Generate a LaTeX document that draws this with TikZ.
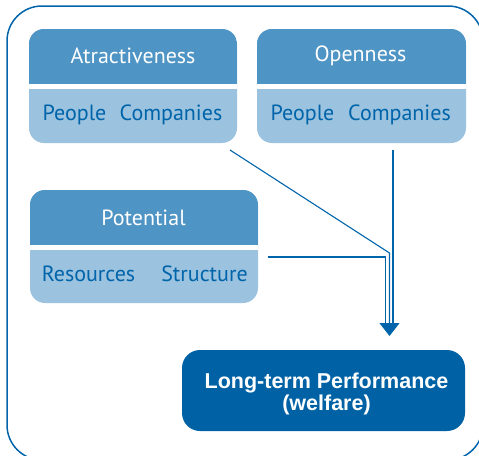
\documentclass[tikz,border=0pt]{standalone}
\usepackage{fontspec}
\setmainfont{PT Sans}
\newfontfamily\perffont{Liberation Sans}
\usetikzlibrary{positioning,arrows.meta}
\definecolor{frameblue}{RGB}{0,100,170}
\definecolor{headblue}{RGB}{78,148,196}
\definecolor{bodyblue}{RGB}{155,194,222}
\definecolor{perfblue}{RGB}{0,98,165}
\begin{document}
\begin{tikzpicture}[x=1pt, y=-1pt,
    box/.style={rounded corners=15pt, fill=bodyblue, inner sep=0pt, minimum height=114pt,
      path picture={
        \fill[headblue, sharp corners] (path picture bounding box.north west) rectangle ([yshift=-55pt]path picture bounding box.north east);
        \fill[white, sharp corners] ([yshift=-55pt]path picture bounding box.north west) rectangle ([yshift=-60pt]path picture bounding box.north east);}},
    title/.style={text=white, font=\fontsize{22}{24}\selectfont, inner sep=0pt},
    item/.style={text=frameblue, font=\fontsize{22}{24}\selectfont, inner sep=0pt},
    link/.style={draw=frameblue, line width=1.1pt},
    perf/.style={rounded corners=18pt, fill=perfblue, minimum width=283pt, minimum height=81pt},
    perftext/.style={text=white, align=center, inner sep=0pt,
      font=\perffont\bfseries\fontsize{21.5}{22}\selectfont}]
  \useasboundingbox (0,0) rectangle (479,455);
  % frame
  \draw[frameblue, line width=1.5pt, rounded corners=35pt] (7,6) rectangle (483,460);

  % the three groups
  \node[box, minimum width=208pt] (att) at (133,86) {};
  \node[box, minimum width=209pt] (opn) at (361.5,86) {};
  \node[box, minimum width=228pt, minimum height=113pt] (pot) at (144,246.5) {};

  \node[title] (att-t) at (133,56) {Atractiveness};
  \node[item] (att-p) at (74.5,115) {People};
  \node[item] (att-c) at (171,115) {Companies};

  \node[title] (opn-t) at (360.5,56) {Openness};
  \node[item] (opn-p) at (302.5,115) {People};
  \node[item] (opn-c) at (399.5,115) {Companies};

  \node[title] (pot-t) at (143.5,218) {Potential};
  \node[item] (pot-r) at (88.5,274) {Resources};
  \node[item] (pot-s) at (204.5,274) {Structure};

  \node[perf] (perf) at (323.5,390.5) {};
  \node[perftext] (perf-t) at (326.5,394) {Long-term Performance\\(welfare)};

  % connectors
  \coordinate (att-out) at (230,150);
  \coordinate (opn-out) at (393,150);
  \coordinate (pot-out) at (268,257);
  \coordinate (bend) at (389.5,253);
  \coordinate (tip) at (389.5,336);

  \draw[link, shorten >=13pt] (opn-out) -- (opn-out |- tip);
  \draw[link, shorten >=13pt] (pot-out) -| ([xshift=-4pt]tip);
  \draw[link, -{Triangle[width=20pt, length=13pt]}] (att-out) -- (bend) -- (tip);
\end{tikzpicture}
\end{document}
